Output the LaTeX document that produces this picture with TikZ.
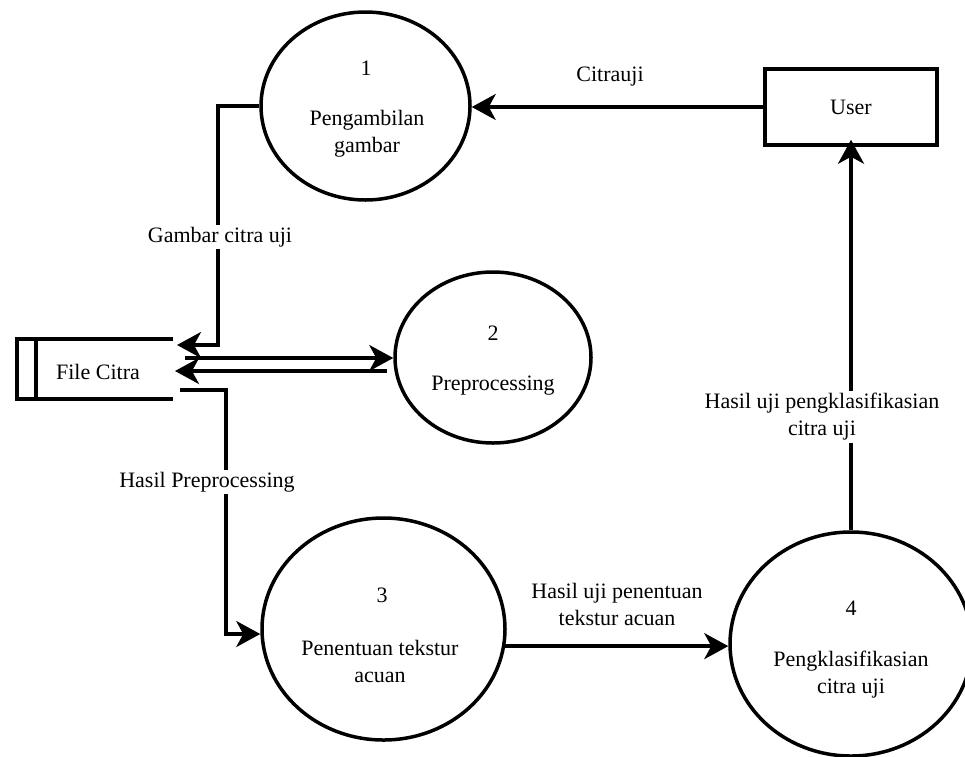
\documentclass[tikz,border=0pt]{standalone}
\usepackage{fontspec}
\setmainfont{Liberation Serif}
\newfontfamily\dfdfont{Liberation Serif}
\usetikzlibrary{shapes.geometric,arrows.meta}
\begin{document}
\begin{tikzpicture}[x=1pt,y=-1pt,
  every node/.style={font=\dfdfont\fontsize{22}{27}\selectfont},
  proc/.style={draw,ellipse,line width=3.5pt,inner sep=0pt},
  flow/.style={line width=3.5pt,-{Stealth[length=24pt,width=26pt,inset=7pt]}},
  plainline/.style={line width=3.5pt},
  lbl/.style={align=center,inner sep=2pt},
  lblw/.style={lbl,fill=white},
]
\useasboundingbox (0,0) rectangle (965,756);

% processes
\node[proc,minimum width=209pt,minimum height=188pt] (c1) at (365.5,106) {};
\node[proc,minimum width=196pt,minimum height=171pt] (c2) at (493,357.5) {};
\node[proc,minimum width=243pt,minimum height=222pt] (c3) at (383.5,629) {};
\node[proc,minimum width=242pt,minimum height=224pt] (c4) at (851,644) {};

\node[lbl] (c1num) at (366,68) {1};
\node[lbl] (c1txt) at (367,133.5) {Pengambilan\\gambar};
\node[lbl] (c2num) at (493,333) {2};
\node[lbl] (c2txt) at (493,386) {Preprocessing};
\node[lbl] (c3num) at (382,595) {3};
\node[lbl] (c3txt) at (380,661.5) {Penentuan tekstur\\acuan};
\node[lbl] (c4num) at (851,608) {4};
\node[lbl] (c4txt) at (851,675) {Pengklasifikasian\\citra uji};

% external entity
\node[draw,line width=3.5pt,minimum width=172pt,minimum height=76pt] (user) at (851,107) {User};

% data store (open on the right)
\node[minimum width=156pt,minimum height=60pt,inner sep=0pt] (file) at (95,369) {};
\node[lbl] (filetxt) at (98,372) {File Citra};
\draw[plainline] (file.north east) -- (file.north west) -- (file.south west) -- (file.south east);
\draw[plainline] ([xshift=19pt]file.north west) -- ([xshift=19pt]file.south west);

% connection points
\coordinate (f1) at (177,345);
\coordinate (f2) at (185,358);
\coordinate (f3) at (175,371);
\coordinate (f4) at (180,390);
\coordinate (c2in) at (387,371);

% flows
\draw[flow] (user.west) -- (user.west -| c1.east);
\draw[flow] (c1.west) -| (218,345) -- (f1);
\draw[flow] (f2) -- (f2 -| c2.west);
\draw[flow] (c2in) -- (f3);
\draw[flow] (f4) -| (226,634) -- (226,634 -| c3.west);
\draw[flow] (c3.-8) -- (c3.-8 -| c4.west);
\draw[flow] (c4.north) -- ([yshift=7pt]user.south);

% flow labels
\node[lbl] (l1) at (610,77) {Citrauji};
\node[lblw] (l2) at (220,237) {Gambar citra uji};
\node[lblw] (l3) at (207,482) {Hasil Preprocessing};
\node[lbl] (l4) at (617,604) {Hasil uji penentuan\\tekstur acuan};
\node[lblw] (l5) at (822,417) {Hasil uji pengklasifikasian\\citra uji};
\end{tikzpicture}
\end{document}
